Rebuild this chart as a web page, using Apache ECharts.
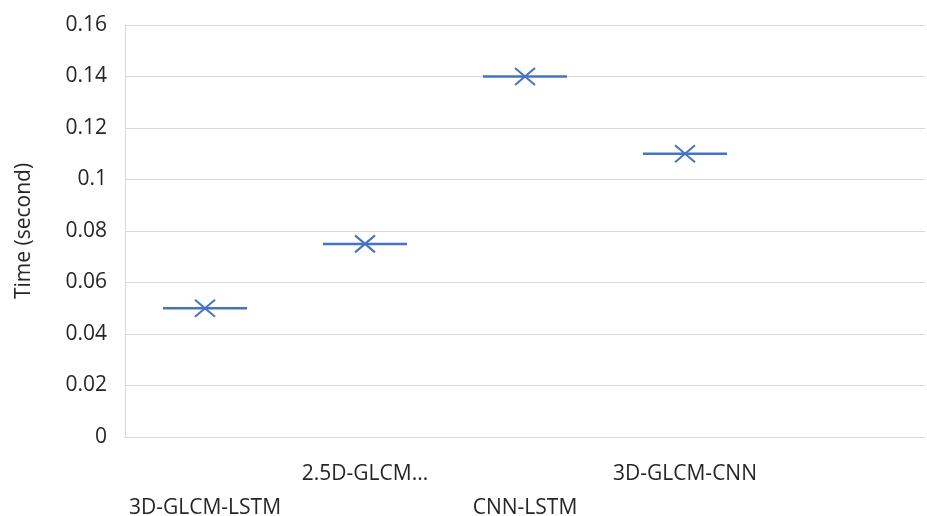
<!DOCTYPE html>
<html>
<head>
<meta charset="utf-8">
<script src="https://cdn.jsdelivr.net/npm/echarts@6/dist/echarts.min.js"></script>
<style>
    html, body { margin: 0; padding: 0; background: #fff; }
    #main { width: 927px; height: 516px; }
</style>
</head>
<body>
<div id="main"></div>
<script>
    // 类别（最后一个空位在原图中也留着）
    var methods = ['3D-GLCM-LSTM', '2.5D-GLCM...', 'CNN-LSTM', '3D-GLCM-CNN', ''];
    var times = [0.05, 0.075, 0.14, 0.11];
    var yTicks = [0, 0.02, 0.04, 0.06, 0.08, 0.1, 0.12, 0.14, 0.16];

    var myChart = echarts.init(document.getElementById('main'));
    var blue = '#4472C4';
    var grey = '#d9d9d9';
    var font = 'Open Sans';

    var points = [];
    for (var i = 0; i < times.length; i++) {
        points.push([i, times[i]]);
    }

    var option = {
        animation: false,
        grid: {
            left: 125,
            right: 2,
            top: 25,
            bottom: 79,
            outerBoundsMode: 'none',
            containLabel: false
        },
        xAxis: {
            type: 'category',
            data: methods,
            boundaryGap: true,
            axisLine: { lineStyle: { color: grey, width: 1 } },
            axisTick: { show: false },
            axisLabel: {
                interval: 0,
                margin: 20,
                color: '#262626',
                fontFamily: font,
                fontSize: 21,
                lineHeight: 34,
                formatter: function (v, idx) {
                    // 偶数项放在第二行
                    return idx % 2 === 0 ? '\n' + v : v;
                }
            }
        },
        yAxis: {
            type: 'value',
            min: yTicks[0],
            max: yTicks[yTicks.length - 1],
            interval: 0.02,
            name: 'Time (second)',
            nameLocation: 'middle',
            nameGap: 90,
            nameTextStyle: { color: '#262626', fontFamily: font, fontSize: 21 },
            axisLine: { show: true, lineStyle: { color: grey, width: 1 } },
            axisTick: { show: false },
            splitLine: { lineStyle: { color: grey, width: 1 } },
            axisLabel: {
                margin: 18,
                color: '#262626',
                fontFamily: font,
                fontSize: 21
            }
        },
        series: [{
            type: 'custom',
            data: points,
            renderItem: function (params, api) {
                var p = api.coord([api.value(0), api.value(1)]);
                var h = 42, sx = 10, sy = 8.5;
                return {
                    type: 'group',
                    children: [{
                        type: 'line',
                        shape: { x1: p[0] - h, y1: p[1], x2: p[0] + h, y2: p[1] },
                        style: { stroke: blue, lineWidth: 2.5 }
                    }, {
                        type: 'line',
                        shape: { x1: p[0] - sx, y1: p[1] - sy, x2: p[0] + sx, y2: p[1] + sy },
                        style: { stroke: blue, lineWidth: 2 }
                    }, {
                        type: 'line',
                        shape: { x1: p[0] - sx, y1: p[1] + sy, x2: p[0] + sx, y2: p[1] - sy },
                        style: { stroke: blue, lineWidth: 2 }
                    }]
                };
            }
        }]
    };

    myChart.setOption(option);
</script>
</body>
</html>
